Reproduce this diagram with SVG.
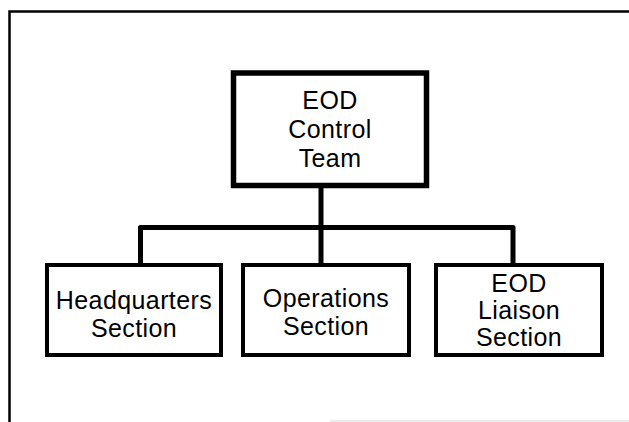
<svg xmlns="http://www.w3.org/2000/svg" width="629" height="422" viewBox="0 0 629 422">
  <style>
    .box { fill: #ffffff; stroke: #000000; stroke-width: 4; }
    .box-main { fill: #ffffff; stroke: #000000; stroke-width: 5.5; }
    .link { fill: none; stroke: #000000; stroke-width: 5; stroke-linejoin: round; }
    .label { font-family: "Liberation Sans", Arial, Helvetica, sans-serif; font-size: 25px; letter-spacing: 0.4px; fill: #000000; text-anchor: middle; }
  </style>
  <rect width="629" height="422" fill="#ffffff"/>

  <!-- page frame -->
  <g id="frame">
    <path d="M9.5,422 V11.5 H629" fill="none" stroke="#000000" stroke-width="2.5"/>
    <path d="M330,421 H629" fill="none" stroke="#d8d8d8" stroke-width="1"/>
  </g>

  <!-- connectors -->
  <g id="connectors">
    <path class="link" d="M321,188 V227.5"/>
    <path class="link" d="M140.5,263 V227.5 H513 V263"/>
    <path class="link" d="M321,227.5 V263"/>
  </g>

  <g id="control-team">
    <rect class="box-main" x="233.5" y="73" width="193" height="112.5"/>
    <text class="label" x="330" y="109">EOD</text>
    <text class="label" x="330" y="138">Control</text>
    <text class="label" x="330" y="167">Team</text>
  </g>

  <g id="headquarters-section">
    <rect class="box" x="47" y="265" width="174" height="90"/>
    <text class="label" x="134" y="309">Headquarters</text>
    <text class="label" x="134" y="337">Section</text>
  </g>

  <g id="operations-section">
    <rect class="box" x="243" y="265" width="166" height="90"/>
    <text class="label" x="326" y="307">Operations</text>
    <text class="label" x="326" y="335">Section</text>
  </g>

  <g id="liaison-section">
    <rect class="box" x="436" y="265" width="166" height="90"/>
    <text class="label" x="519" y="292">EOD</text>
    <text class="label" x="519" y="319">Liaison</text>
    <text class="label" x="519" y="346">Section</text>
  </g>
</svg>
